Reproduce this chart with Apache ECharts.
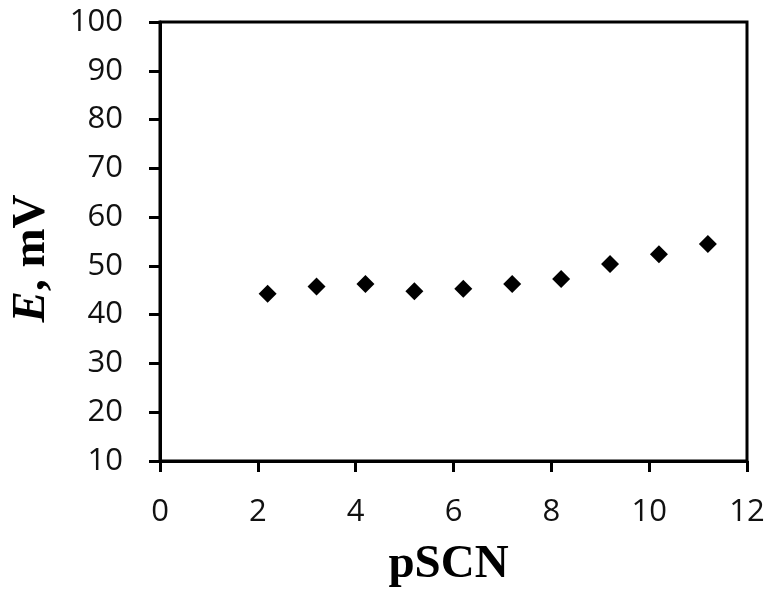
<!DOCTYPE html>
<html>
<head>
<meta charset="utf-8">
<script src="https://cdn.jsdelivr.net/npm/echarts@6/dist/echarts.min.js"></script>
<style>
html,body{margin:0;padding:0;background:#fff;}
#main{width:771px;height:593px;}
</style>
</head>
<body>
<div id="main"></div>
<script>
// pSCN values and measured potential
var pSCN = [2.2, 3.2, 4.2, 5.2, 6.2, 7.2, 8.2, 9.2, 10.2, 11.2];
var potential = [44.3, 45.8, 46.3, 44.8, 45.3, 46.3, 47.3, 50.4, 52.4, 54.5];

var chart = echarts.init(document.getElementById('main'));

var points = [];
for (var i = 0; i < pSCN.length; i++) {
	points.push([pSCN[i], potential[i]]);
}

var option = {
	animation: false,
	grid: {
		left: 157,
		top: 22,
		right: 24,
		bottom: 130,
		show: true,
		borderColor: '#000',
		borderWidth: 3
	},
	xAxis: {
		type: 'value',
		min: 0,
		max: 12,
		interval: 2,
		name: 'pSCN',
		nameLocation: 'middle',
		nameGap: 80,
		nameTextStyle: {
			fontFamily: 'Liberation Serif',
			fontWeight: 'bold',
			fontSize: 47,
			color: '#000',
			padding: [0, 10, 0, 0]
		},
		axisLine: {lineStyle: {color: '#000', width: 3}},
		axisTick: {length: 11, lineStyle: {color: '#000', width: 3}},
		splitLine: {show: false},
		axisLabel: {
			margin: 36,
			fontFamily: 'Open Sans',
			fontSize: 31,
			color: '#111'
		}
	},
	yAxis: {
		type: 'value',
		min: 10,
		max: 100,
		interval: 10,
		name: '{i|E}, mV',
		nameLocation: 'middle',
		nameGap: 105,
		nameTextStyle: {
			fontFamily: 'Liberation Serif',
			fontWeight: 'bold',
			fontSize: 47,
			color: '#000',
			padding: [0, 34, 0, 0],
			rich: {
				i: {
					fontFamily: 'Liberation Serif',
					fontWeight: 'bold',
					fontStyle: 'italic',
					fontSize: 47,
					color: '#000'
				}
			}
		},
		axisLine: {show: true, lineStyle: {color: '#000', width: 3}},
		axisTick: {show: true, length: 11, lineStyle: {color: '#000', width: 3}},
		splitLine: {show: false},
		axisLabel: {
			margin: 37,
			fontFamily: 'Open Sans',
			fontSize: 31,
			color: '#111'
		}
	},
	series: [{
		type: 'scatter',
		symbol: 'diamond',
		symbolSize: 18,
		itemStyle: {color: '#000', opacity: 1},
		data: points
	}]
};
chart.setOption(option);
</script>
</body>
</html>
